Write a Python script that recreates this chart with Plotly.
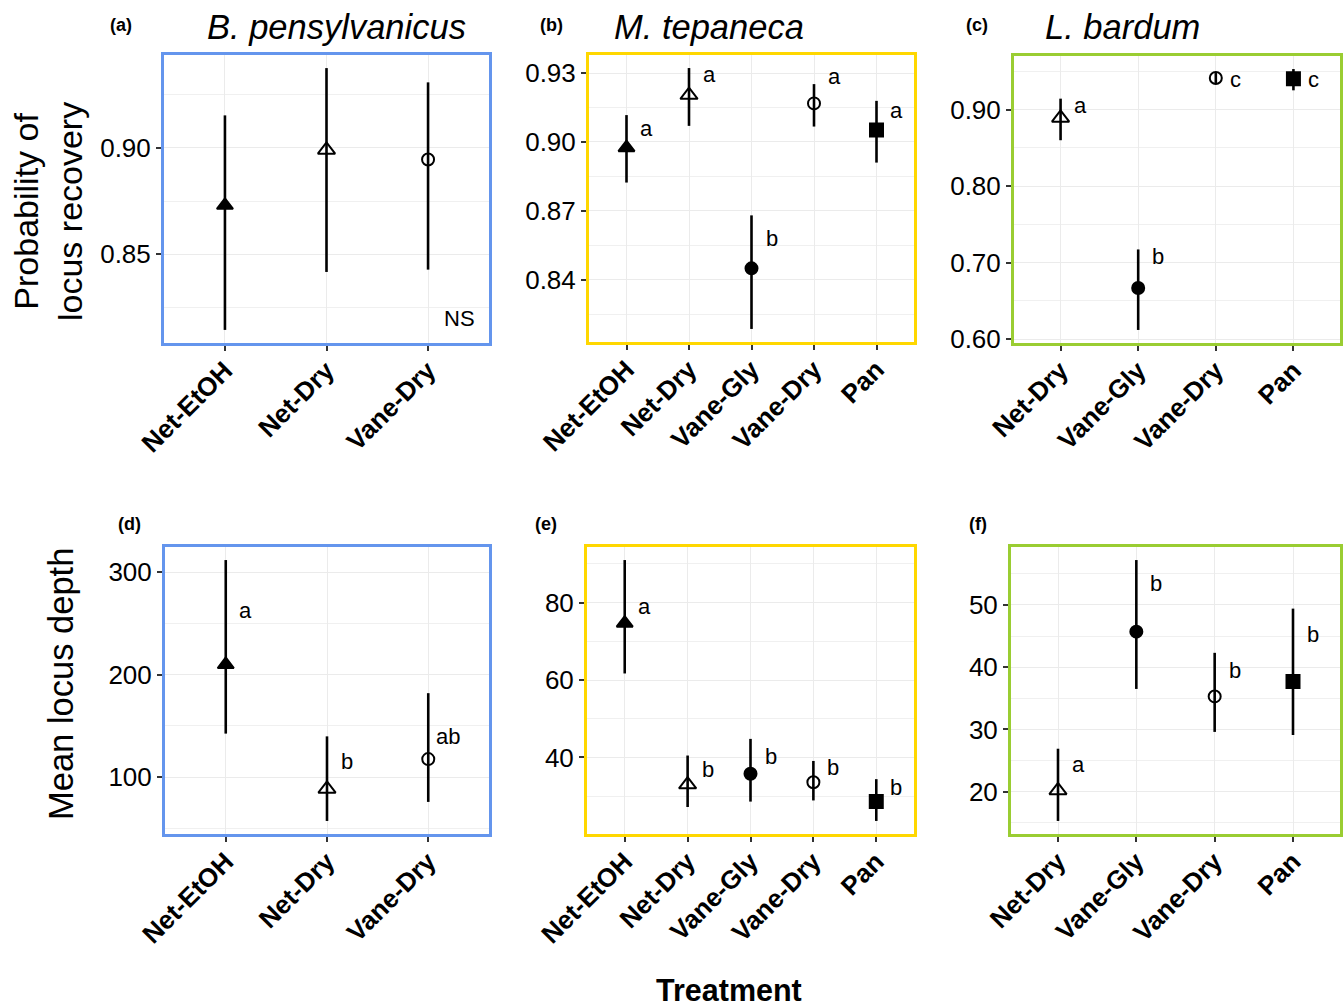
import plotly.graph_objects as go

W, H = 1343, 1007

# ---------------- data ----------------
cats_bp = ["Net-EtOH", "Net-Dry", "Vane-Dry"]
cats_mt = ["Net-EtOH", "Net-Dry", "Vane-Gly", "Vane-Dry", "Pan"]
cats_lb = ["Net-Dry", "Vane-Gly", "Vane-Dry", "Pan"]

# probability of locus recovery
rec_bp_mean = [0.873, 0.899, 0.8945]
rec_bp_lo = [0.8145, 0.8417, 0.8428]
rec_bp_hi = [0.9152, 0.9374, 0.9307]
rec_bp_lab = ["", "", ""]
rec_bp_laby = [0, 0, 0]

rec_mt_mean = [0.8975, 0.9204, 0.8449, 0.9168, 0.9052]
rec_mt_lo = [0.8823, 0.9070, 0.8185, 0.9067, 0.8910]
rec_mt_hi = [0.9117, 0.9322, 0.8680, 0.9252, 0.9179]
rec_mt_lab = ["a", "a", "b", "a", "a"]
rec_mt_laby = [0.9059, 0.9296, 0.8580, 0.9286, 0.9135]

rec_lb_mean = [0.8892, 0.6669, 0.9413, 0.9404]
rec_lb_lo = [0.8600, 0.6121, 0.9348, 0.9252]
rec_lb_hi = [0.9143, 0.7173, 0.9478, 0.9530]
rec_lb_lab = ["a", "b", "c", "c"]
rec_lb_laby = [0.9052, 0.7078, 0.9391, 0.9391]

# mean locus depth
dep_bp_mean = [210.0, 88.5, 117.6]
dep_bp_lo = [142.5, 57.2, 75.8]
dep_bp_hi = [312.0, 139.8, 182.0]
dep_bp_lab = ["a", "b", "ab"]
dep_bp_laby = [262.7, 115.3, 139.2]

dep_mt_mean = [74.7, 33.0, 35.8, 33.6, 28.6]
dep_mt_lo = [61.7, 27.2, 28.6, 28.9, 23.6]
dep_mt_hi = [91.0, 40.5, 44.8, 39.1, 34.4]
dep_mt_lab = ["a", "b", "b", "b", "b"]
dep_mt_laby = [79.1, 36.8, 40.3, 37.4, 32.3]

dep_lb_mean = [20.2, 45.7, 35.3, 37.7]
dep_lb_lo = [15.3, 36.5, 29.6, 29.1]
dep_lb_hi = [26.9, 57.2, 42.3, 49.4]
dep_lb_lab = ["a", "b", "b", "b"]
dep_lb_laby = [24.4, 53.4, 39.5, 45.3]

ticks_rec_bp = [0.85, 0.90]
ticks_rec_mt = [0.84, 0.87, 0.90, 0.93]
ticks_rec_lb = [0.60, 0.70, 0.80, 0.90]
ticks_dep_bp = [100, 200, 300]
ticks_dep_mt = [40, 60, 80]
ticks_dep_lb = [20, 30, 40, 50]

species = ["B. pensylvanicus", "M. tepaneca", "L. bardum"]
panel_tags = ["(a)", "(b)", "(c)", "(d)", "(e)", "(f)"]

# ---------------- styles ----------------
FONT = "Liberation Sans, Arial, Helvetica, sans-serif"
SYMBOL = {"Net-EtOH": "triangle-up", "Net-Dry": "triangle-up-open",
          "Vane-Gly": "circle", "Vane-Dry": "circle-open", "Pan": "square"}
SIZE = {"Net-EtOH": 14, "Net-Dry": 15, "Vane-Gly": 12, "Vane-Dry": 12, "Pan": 13}
BLUE, GOLD, GREEN = "#6495ED", "#FFD700", "#9ACD32"

# pixel boxes of panels (left, top, right, bottom)
boxes = [(164, 55, 489, 343), (589, 55, 914, 342), (1014, 56, 1340, 343),
         (165, 547, 489, 834), (587, 547, 914, 834), (1011, 547, 1340, 834)]

panels = [
    (cats_bp, rec_bp_mean, rec_bp_lo, rec_bp_hi, rec_bp_lab, rec_bp_laby, ticks_rec_bp, ".2f", BLUE),
    (cats_mt, rec_mt_mean, rec_mt_lo, rec_mt_hi, rec_mt_lab, rec_mt_laby, ticks_rec_mt, ".2f", GOLD),
    (cats_lb, rec_lb_mean, rec_lb_lo, rec_lb_hi, rec_lb_lab, rec_lb_laby, ticks_rec_lb, ".2f", GREEN),
    (cats_bp, dep_bp_mean, dep_bp_lo, dep_bp_hi, dep_bp_lab, dep_bp_laby, ticks_dep_bp, "d", BLUE),
    (cats_mt, dep_mt_mean, dep_mt_lo, dep_mt_hi, dep_mt_lab, dep_mt_laby, ticks_dep_mt, "d", GOLD),
    (cats_lb, dep_lb_mean, dep_lb_lo, dep_lb_hi, dep_lb_lab, dep_lb_laby, ticks_dep_lb, "d", GREEN),
]

fig = go.Figure()
annotations = []
layout = {}

for i, (cats, mean, lo, hi, lab, laby, tv, tf, col) in enumerate(panels):
    n = i + 1
    xa = "x" if n == 1 else f"x{n}"
    ya = "y" if n == 1 else f"y{n}"
    fig.add_trace(go.Scatter(
        x=cats, y=mean, xaxis=xa, yaxis=ya, mode="markers", showlegend=False,
        opacity=1,
        marker=dict(symbol=[SYMBOL[c] for c in cats], size=[SIZE[c] for c in cats],
                    color="#000000", opacity=1, line=dict(color="#000000", width=2)),
        error_y=dict(type="data", symmetric=False,
                     array=[h - m for h, m in zip(hi, mean)],
                     arrayminus=[m - l for m, l in zip(mean, lo)],
                     thickness=2.6, width=0, color="#000000"),
    ))
    span = max(hi) - min(lo)
    yr = [min(lo) - 0.05 * span, max(hi) + 0.05 * span]
    step = tv[1] - tv[0]
    minor = [v - step / 2 for v in tv] + [tv[-1] + step / 2]
    l, t, r, b = boxes[i]
    layout[f"xaxis{n}"] = dict(
        domain=[l / W, r / W], anchor=ya, type="category", automargin=False,
        range=[-0.6, len(cats) - 0.4], categoryorder="array", categoryarray=cats,
        showline=True, linecolor=col, linewidth=3, mirror=True,
        showgrid=True, gridcolor="#EBEBEB", gridwidth=1.2, zeroline=False,
        ticks="outside", ticklen=5, tickwidth=1.5, tickcolor="#333333",
        tickangle=-45, ticklabelstandoff=-6,
        tickfont=dict(family=FONT, size=26, color="black", weight="bold"),
    )
    layout[f"yaxis{n}"] = dict(
        domain=[1 - b / H, 1 - t / H], anchor=xa, range=yr, automargin=False,
        tickmode="array", tickvals=tv, tickformat=tf,
        showline=True, linecolor=col, linewidth=3, mirror=True,
        showgrid=True, gridcolor="#EBEBEB", gridwidth=1.2, zeroline=False,
        ticks="outside", ticklen=5, tickwidth=1.5, tickcolor="#333333",
        tickfont=dict(family=FONT, size=26, color="black"),
        minor=dict(tickvals=minor, showgrid=True, gridcolor="#F0F0F0", gridwidth=0.8, ticks=""),
    )
    for c, s, yv in zip(cats, lab, laby):
        if s:
            annotations.append(dict(x=c, y=yv, xref=xa, yref=ya, text=s, showarrow=False,
                                    xshift=20, xanchor="center", yanchor="middle",
                                    font=dict(family=FONT, size=22, color="black")))

# NS in panel (a)
annotations.append(dict(x=2.31, y=0.8198, xref="x", yref="y", text="NS", showarrow=False,
                        xanchor="center", yanchor="middle",
                        font=dict(family=FONT, size=22, color="black")))

# species titles
for name, px in zip(species, [205, 612, 1043]):
    annotations.append(dict(x=px / W, y=1 - 27 / H, xref="paper", yref="paper",
                            text=f"<i>{name}</i>", showarrow=False,
                            xanchor="left", yanchor="middle",
                            font=dict(family=FONT, size=34.5, color="black")))

# panel tags
for tag, (px, py) in zip(panel_tags, [(121, 25), (551, 25), (977, 25),
                                       (129, 524), (546, 524), (978, 524)]):
    annotations.append(dict(x=px / W, y=1 - py / H, xref="paper", yref="paper",
                            text=f"<b>{tag}</b>", showarrow=False,
                            xanchor="center", yanchor="middle",
                            font=dict(family=FONT, size=18, color="black")))

# axis titles
annotations.append(dict(x=48 / W, y=1 - 212 / H, xref="paper", yref="paper",
                        text="Probability of<br>locus recovery", showarrow=False,
                        textangle=-90, xanchor="center", yanchor="middle",
                        font=dict(family=FONT, size=34, color="black")))
annotations.append(dict(x=61 / W, y=1 - 684 / H, xref="paper", yref="paper",
                        text="Mean locus depth", showarrow=False,
                        textangle=-90, xanchor="center", yanchor="middle",
                        font=dict(family=FONT, size=34.5, color="black")))
annotations.append(dict(x=729 / W, y=1 - 990 / H, xref="paper", yref="paper",
                        text="<b>Treatment</b>", showarrow=False,
                        xanchor="center", yanchor="middle",
                        font=dict(family=FONT, size=30.5, color="black")))

fig.update_layout(
    template="none",
    width=W, height=H, margin=dict(l=0, r=0, t=0, b=0, autoexpand=False),
    paper_bgcolor="white", plot_bgcolor="white",
    font=dict(family=FONT, color="black"),
    annotations=annotations, showlegend=False,
    **layout,
)

fig.write_html("out.html", config={"displayModeBar": False},
               post_script="document.body.style.margin='0';")
